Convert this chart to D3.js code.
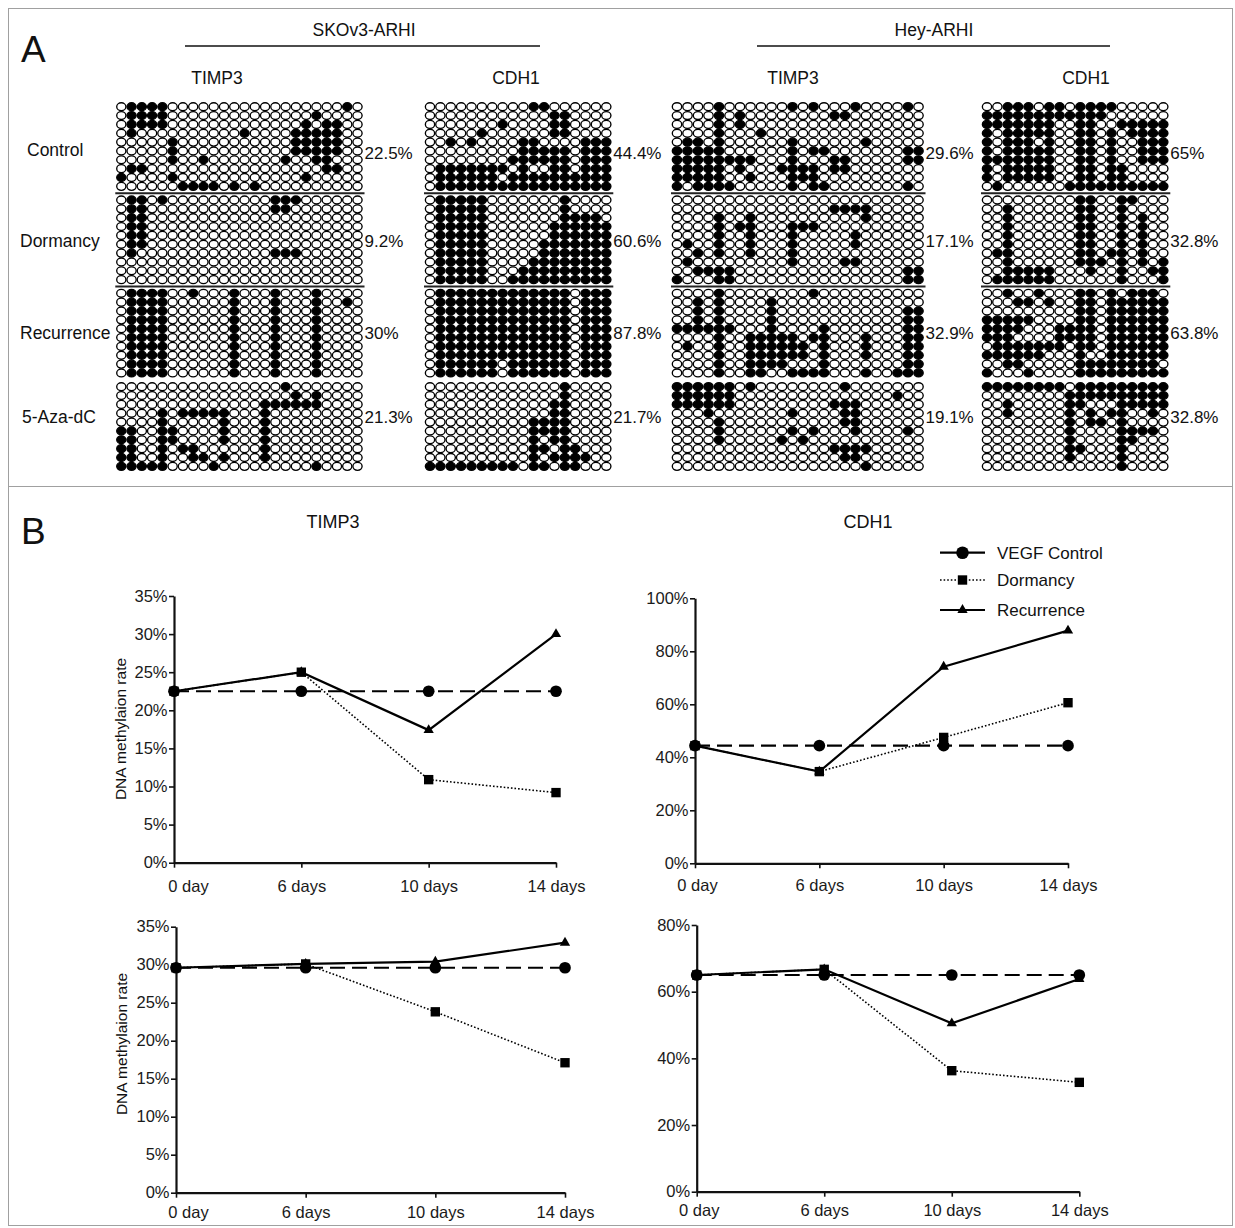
<!DOCTYPE html>
<html><head><meta charset="utf-8">
<script src="https://cdn.jsdelivr.net/npm/d3@7"></script>
<style>
body{margin:0;background:#fff;}
svg{display:block;}
</style></head><body>
<svg id="chart" width="1235" height="1228"></svg>
<script>
// ================= DATA =================
const conditions = ["Control", "Dormancy", "Recurrence", "5-Aza-dC"];
const cellLines = ["SKOv3-ARHI", "Hey-ARHI"];
const genes = ["TIMP3", "CDH1", "TIMP3", "CDH1"];
const percentLabels = [
  ["22.5%", "9.2%", "30%", "21.3%"],
  ["44.4%", "60.6%", "87.8%", "21.7%"],
  ["29.6%", "17.1%", "32.9%", "19.1%"],
  ["65%", "32.8%", "63.8%", "32.8%"]
];
// "#" = methylated CpG (filled), "." = unmethylated (open)
const grid_SKOv3_TIMP3 = [
  [".####.................#.", ".####..............#....", ".####.............#.##..", ".#..........#....#####..", ".....#...........#####..",
   ".....#...........#####..", ".....#..#.......#..##...", ".##.................##..", "#....#............#.....", "......####.#.#.........."],
  [".##.#..........###......", ".##............##.......", ".##.....................", ".##.....................", ".##.....................",
   ".##.....................", ".#.............###......", "........................", "........................", "........................"],
  [".####..#...#...#...#....", ".####......#...#...#..#.", ".####......#...#...#....", ".####......#...#...#....", ".####......#...#...#....",
   ".####......#...#...#....", ".####......#...#...#....", ".####......#...#...#....", ".####......#...#...#....", ".####......#...#...#...."],
  ["................#.......", ".................#.#....", "..............######....", "....#.#####...#.........", "....#.....#...#.........",
   "##..##....#...#.........", "##..##....#...#.........", "##..#.##......#.........", "##..#..##.#...#.........", "#####....#.........#...."]
];
const grid_SKOv3_CDH1 = [
  ["..........##......", "............##....", ".......#....##....", ".....#......##....", "..#.#....##....###",
   ".........#####.###", "........######.###", ".#######.#..##.###", ".######.##########", ".#################"],
  [".#####.......#....", ".#####.......#....", ".#####.......####.", ".#####......######", ".#####......######",
   ".#####.....#######", ".#####.....#######", ".#####....########", ".#####...#########", ".#####..##########"],
  [".#############.###", ".#############.###", ".#############.###", ".#############.###", ".#############.###",
   ".#############.###", ".#############.###", ".#############.###", ".######.######.###", ".######.######.###"],
  [".............#....", ".............#....", "............##....", "............##....", "..........####....",
   "..........####....", "..........#.##....", "..........##.##...", "..........#.####..", "#########.##.##..."]
];
const grid_Hey_TIMP3 = [
  ["....#......#.#...#....#.", "....#.#........##.......", "....#.#.................", "....#...#...............", ".##.#......#......#.....",
   "#####......#.##.......##", "########...#...##.....##", "#####.#...####.##.......", "#####..#...###..........", "#.####.....#.##.......#."],
  ["........................", "...............####.....", "....#..#..........#.....", "....#.##...###..........", "....#..#...#.....#......",
   ".#..#..#...#.....#......", "..#.#..#...#............", ".#.........#....##......", "..####................##", "#...##................##"],
  ["....#........#..........", "..#.#....#..............", "..#.#....#............##", "..#.#....#............##", "######...#....#.......##",
   "....#..#####.##...#...##", ".#..#..######.#...#...##", "....#..######.#...#...##", "....#..####...#.......##", "....#..##..####...#..###"],
  ["######.#........#.......", "######...............#..", "######.........###......", "...#.......#....##......", "....#...........##......",
   "....#......#.#...#....#.", "....#.....#.#...........", "...............####.....", "................##......", "..................#....."]
];
const grid_Hey_CDH1 = [
  ["..###.##.####.....", "############......", "#######..##..#####", "#.#####..##.#.####", "#.###.#..##.#..###",
   "#.#####..##.#..###", "#######..##.#..###", "#.#####..##.##....", "#.#####..##.##....", ".#......##########"],
  [".........##..##...", "..#......##..#....", "..#......##..#.#..", "..#......##..#.#..", "..#......##..#.#..",
   "..#......##..#.#..", ".##......##.##.#..", "..#......###.#.#.#", "..#####...#..#..##", ".######......#...#"],
  ["..#..#...##.#.###.", "...##.#..##.######", ".........##.######", "#####....##.######", "####...####.######",
   "###....####.######", ".#######.##.######", "######...#..######", "..##.....########.", "#...#....#########"],
  ["########.#########", "........##########", "..#.....##...#####", "..#.....#.#.##..#.", "........#.##.#....",
   "........#....####.", "........#....##...", "........##...#....", "........#....#....", ".............#...."]
];

const days = ["0 day", "6 days", "10 days", "14 days"];
const seriesNames = ["VEGF Control", "Dormancy", "Recurrence"];
// values in % methylation
const skov3_TIMP3_control    = [22.5, 22.5, 22.5, 22.5];
const skov3_TIMP3_dormancy   = [22.5, 25.0, 10.9, 9.2];
const skov3_TIMP3_recurrence = [22.5, 25.0, 17.4, 30.0];
const skov3_CDH1_control     = [44.4, 44.4, 44.4, 44.4];
const skov3_CDH1_dormancy    = [44.4, 34.6, 47.5, 60.6];
const skov3_CDH1_recurrence  = [44.4, 34.6, 74.2, 87.8];
const hey_TIMP3_control      = [29.6, 29.6, 29.6, 29.6];
const hey_TIMP3_dormancy     = [29.6, 30.1, 23.8, 17.1];
const hey_TIMP3_recurrence   = [29.6, 30.1, 30.4, 32.9];
const hey_CDH1_control       = [65.0, 65.0, 65.0, 65.0];
const hey_CDH1_dormancy      = [65.0, 66.7, 36.3, 32.8];
const hey_CDH1_recurrence    = [65.0, 66.7, 50.5, 63.8];
const yTicks35  = [0, 5, 10, 15, 20, 25, 30, 35];
const yTicks100 = [0, 20, 40, 60, 80, 100];
const yTicks80  = [0, 20, 40, 60, 80];
const yAxisTitle = "DNA methylaion rate";

// ================= DRAWING =================
const FONT = '"Liberation Sans", Arial, Helvetica, sans-serif';
const INK = "#111";
const svg = d3.select("#chart").attr("font-family", FONT).style("font-family", FONT);

// frame
svg.append("rect").attr("x", 8.5).attr("y", 8.5).attr("width", 1224).attr("height", 1217)
  .attr("fill", "none").attr("stroke", "#a0a0a0").attr("stroke-width", 1);
svg.append("line").attr("x1", 8.5).attr("x2", 1232.5).attr("y1", 486.5).attr("y2", 486.5)
  .attr("stroke", "#a0a0a0").attr("stroke-width", 1);

// panel letters
svg.append("text").attr("x", 21).attr("y", 62).attr("font-size", 37).attr("fill", INK).text("A");
svg.append("text").attr("x", 21).attr("y", 544).attr("font-size", 37).attr("fill", INK).text("B");

// ---------- Panel A ----------
const cellLineCenter = [364, 934];
const cellLineSpan = [[185, 540], [757, 1110]];
cellLines.forEach((name, i) => {
  svg.append("text").attr("x", cellLineCenter[i]).attr("y", 36).attr("text-anchor", "middle")
    .attr("font-size", 17.5).attr("fill", INK).text(name);
  svg.append("line").attr("x1", cellLineSpan[i][0]).attr("x2", cellLineSpan[i][1])
    .attr("y1", 46).attr("y2", 46).attr("stroke", INK).attr("stroke-width", 1.5);
});
const geneCenter = [217, 516, 793, 1086];
genes.forEach((g, i) => {
  svg.append("text").attr("x", geneCenter[i]).attr("y", 84).attr("text-anchor", "middle")
    .attr("font-size", 17.5).attr("fill", INK).text(g);
});
const rowLabelX = [27, 20, 20, 22];
const rowLabelY = [150, 241, 333, 417];
conditions.forEach((c, i) => {
  svg.append("text").attr("x", rowLabelX[i]).attr("y", rowLabelY[i] + 6)
    .attr("font-size", 17.5).attr("fill", INK).text(c);
});

const grids = [grid_SKOv3_TIMP3, grid_SKOv3_CDH1, grid_Hey_TIMP3, grid_Hey_CDH1];
const gridLeft = [121.3, 430, 677, 987];
const gridStep = [10.27, 10.37, 10.5, 10.37];
const blockTop = [106.7, 200, 293.3, 386.7];
const rowStep = 8.85;
const pctY = [153, 241, 333, 417];

grids.forEach((g, gi) => {
  const ncol = g[0][0].length;
  const x = d3.scaleLinear().domain([0, ncol - 1])
    .range([gridLeft[gi], gridLeft[gi] + (ncol - 1) * gridStep[gi]]);
  const gg = svg.append("g");
  g.forEach((block, bi) => {
    const y = d3.scaleLinear().domain([0, 9]).range([blockTop[bi], blockTop[bi] + 9 * rowStep]);
    const cells = [];
    block.forEach((row, r) => row.split("").forEach((ch, c) => cells.push({ r, c, m: ch === "#" })));
    gg.append("g").selectAll("ellipse").data(cells).join("ellipse")
      .attr("cx", d => x(d.c)).attr("cy", d => y(d.r))
      .attr("rx", gridStep[gi] / 2 - 0.55).attr("ry", rowStep / 2 - 0.45)
      .attr("fill", d => d.m ? "#000" : "#fff")
      .attr("stroke", "#000").attr("stroke-width", 1.35);
    // percentage
    gg.append("text").attr("x", x(ncol - 1) + 7).attr("y", pctY[bi] + 6)
      .attr("font-size", 17).attr("fill", INK).text(percentLabels[gi][bi]);
  });
  // separators between blocks
  [0, 1].forEach(bi => {
    const yy = ((blockTop[bi] + 9 * rowStep) + blockTop[bi + 1]) / 2;
    gg.append("line").attr("x1", x(0) - 6).attr("x2", x(ncol - 1) + 7)
      .attr("y1", yy).attr("y2", yy).attr("stroke", "#222").attr("stroke-width", 2);
  });
});

// ---------- Panel B ----------
const charts = [
  { title: "TIMP3", s: [skov3_TIMP3_control, skov3_TIMP3_dormancy, skov3_TIMP3_recurrence],
    xr: [174, 556], yr: [862.7, 596], max: 35, ticks: yTicks35, pad: 13, firstDx: 14, ylab: [121, 729] },
  { title: "CDH1", s: [skov3_CDH1_control, skov3_CDH1_dormancy, skov3_CDH1_recurrence],
    xr: [695, 1068], yr: [863.3, 598.3], max: 100, ticks: yTicks100, pad: 11, firstDx: 2, ylab: null },
  { title: null, s: [hey_TIMP3_control, hey_TIMP3_dormancy, hey_TIMP3_recurrence],
    xr: [176, 565], yr: [1192.7, 926.7], max: 35, ticks: yTicks35, pad: 8.5, firstDx: 12, ylab: [122, 1044] },
  { title: null, s: [hey_CDH1_control, hey_CDH1_dormancy, hey_CDH1_recurrence],
    xr: [696.7, 1079.3], yr: [1191.7, 925], max: 80, ticks: yTicks80, pad: 8, firstDx: 2, ylab: null }
];
const titlePos = [[333, 528], [868, 528]];
const lineStyle = [
  { dash: "15,7", w: 2.2 },
  { dash: "1.6,2", w: 1.6 },
  { dash: null, w: 2.2 }
];
const symbols = [d3.symbolCircle, d3.symbolSquare, d3.symbolTriangle];
const symSize = [108, 88, 46];

charts.forEach((ch, ci) => {
  const g = svg.append("g");
  const x = d3.scalePoint().domain(days).range(ch.xr).padding(0);
  const y = d3.scaleLinear().domain([0, ch.max]).range(ch.yr);

  const ya = g.append("g").attr("transform", `translate(${ch.xr[0]},0)`)
    .call(d3.axisLeft(y).tickValues(ch.ticks).tickFormat(d => d + "%").tickSize(5).tickSizeOuter(0).tickPadding(1.5));
  const xa = g.append("g").attr("transform", `translate(0,${ch.yr[0]})`)
    .call(d3.axisBottom(x).tickSize(5).tickSizeOuter(0).tickPadding(ch.pad));
  [ya, xa].forEach(a => {
    a.attr("font-family", FONT).attr("font-size", 16.5);
    a.select(".domain").attr("stroke", INK).attr("stroke-width", 2.2);
    a.selectAll(".tick line").attr("stroke", INK).attr("stroke-width", 1.6);
    a.selectAll(".tick text").attr("fill", "#1a1a1a");
  });
  xa.selectAll(".tick text").filter(d => d === days[0]).attr("dx", ch.firstDx);

  if (ch.title) {
    g.append("text").attr("x", titlePos[ci][0]).attr("y", titlePos[ci][1]).attr("text-anchor", "middle")
      .attr("font-size", 18).attr("fill", INK).text(ch.title);
  }
  if (ch.ylab) {
    g.append("text").attr("transform", `translate(${ch.ylab[0] + 5},${ch.ylab[1]}) rotate(-90)`)
      .attr("text-anchor", "middle").attr("font-size", 15.5).attr("fill", INK).text(yAxisTitle);
  }

  const line = d3.line().x((d, i) => x(days[i])).y(d => y(d));
  ch.s.forEach((vals, si) => {
    g.append("path").attr("d", line(vals)).attr("fill", "none")
      .attr("stroke", "#000").attr("stroke-width", lineStyle[si].w)
      .attr("stroke-dasharray", lineStyle[si].dash);
  });
  [2, 1, 0].forEach(si => {
    g.append("g").selectAll("path").data(ch.s[si]).join("path")
      .attr("transform", (d, i) => `translate(${x(days[i])},${y(d)})`)
      .attr("d", d3.symbol().type(symbols[si]).size(symSize[si]))
      .attr("fill", "#000");
  });
});

// legend (in the CDH1 chart)
const legY = [552.7, 580, 610];
const lg = svg.append("g");
seriesNames.forEach((name, i) => {
  lg.append("line").attr("x1", 940).attr("x2", 985).attr("y1", legY[i]).attr("y2", legY[i])
    .attr("stroke", "#000").attr("stroke-width", i === 1 ? 1.6 : 2.2)
    .attr("stroke-dasharray", i === 1 ? "1.6,2" : null);
  lg.append("path").attr("transform", `translate(962.5,${legY[i]})`)
    .attr("d", d3.symbol().type(symbols[i]).size(i === 0 ? 125 : symSize[i])).attr("fill", "#000");
  lg.append("text").attr("x", 997).attr("y", legY[i] + 6).attr("font-size", 17).attr("fill", INK).text(name);
});
</script>
</body></html>
